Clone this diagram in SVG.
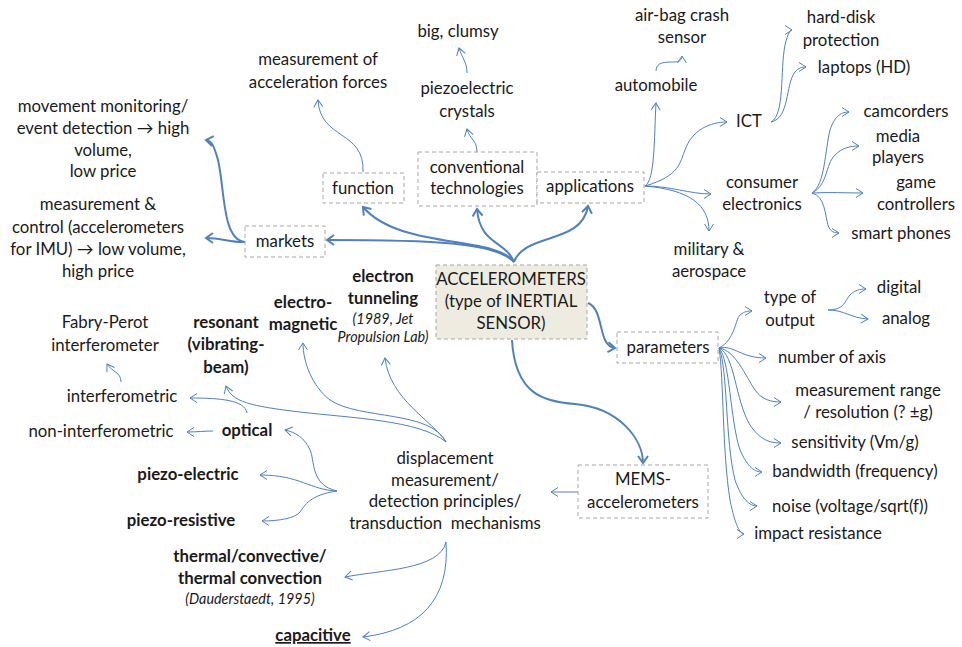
<svg xmlns="http://www.w3.org/2000/svg" width="962" height="647" viewBox="0 0 962 647">
  <defs>
    <style>
      text { font-family: Lato, "Open Sans", "DejaVu Sans", sans-serif; font-size: 16.8px; fill: #1a1a1a; text-anchor: middle; white-space: pre; }
      .b { font-weight: bold; }
      .i { font-style: italic; font-size: 14.4px; }
      .box { fill: #ffffff; stroke: #a6a6a6; stroke-width: 1; stroke-dasharray: 4 3; }
      .core { fill: #eeece1; stroke: #a6a6a6; stroke-width: 1; stroke-dasharray: 4 3; }
      .c { fill: none; stroke: #4f81bd; stroke-width: 1; marker-end: url(#ah); }
      .ct { fill: none; stroke: #4f81bd; stroke-width: 2; marker-end: url(#ahb); }
    </style>
    <marker id="ah" viewBox="-10 -6 12 12" markerWidth="12" markerHeight="12" refX="0" refY="0" orient="auto" markerUnits="userSpaceOnUse">
      <path d="M-7,-4.5 L0,0 L-7,4.5" fill="none" stroke="#4f81bd" stroke-width="1"/>
    </marker>
    <marker id="ahb" viewBox="-10 -6 12 12" markerWidth="12" markerHeight="12" refX="0" refY="0" orient="auto" markerUnits="userSpaceOnUse">
      <path d="M-7,-5 L0,0 L-7,5" fill="none" stroke="#4f81bd" stroke-width="2"/>
    </marker>
  </defs>

  <!-- connectors -->
  <g id="connectors">
    <!-- main branches from the central node -->
    <path class="ct" d="M514,262 C 495,242 430,240 327,240"/>
    <path class="ct" d="M514,262 C 495,235 400,250 363,207"/>
    <path class="ct" d="M514,262 C 505,240 480,245 477,209"/>
    <path class="ct" d="M514,262 C 525,232 582,245 588,206"/>
    <path class="ct" d="M588,303 C 605,310 597,346 615,348"/>
    <path class="ct" d="M512,340 C 515,395 545,402 575,404 C 620,408 643,440 643,463"/>
    <!-- markets -->
    <path class="ct" d="M245,242 C 222,240 225,190 218,160 C 214,146 212,141 206,140"/>
    <path class="ct" d="M245,242 C 232,243 222,238 206,238"/>
    <!-- function / technologies -->
    <path class="c" d="M363,172 C 365,130 320,140 318,100"/>
    <path class="c" d="M477,152 C 477,140 470,140 467,129"/>
    <path class="c" d="M467,73 C 467,62 462,58 459,48"/>
    <!-- applications -->
    <path class="c" d="M645,186 C 655,180 654,140 656,103"/>
    <path class="c" d="M645,186 C 680,176 680,162 685,150 C 692,130 710,122 727,122"/>
    <path class="c" d="M645,186 C 670,186 690,194 711,194"/>
    <path class="c" d="M645,186 C 690,190 709,205 709,231"/>
    <path class="c" d="M656,71 C 656,62 665,62 674,62 C 679,62 682,60 682,56"/>
    <path class="c" d="M771,122 C 785,115 780,70 785,45 C 788,33 790,30 792,30"/>
    <path class="c" d="M771,122 C 790,118 785,85 795,72 C 798,68 802,67 806,67"/>
    <path class="c" d="M812,193 C 825,185 825,150 830,130 C 835,115 842,112 849,112"/>
    <path class="c" d="M812,193 C 828,185 825,165 835,155 C 842,148 850,146 859,146"/>
    <path class="c" d="M812,193 C 830,192 845,193 863,193"/>
    <path class="c" d="M812,193 C 825,196 825,215 828,225 C 830,232 835,233 839,233"/>
    <!-- parameters -->
    <path class="c" d="M719,348 C 735,340 735,320 740,315 C 745,311 748,311 752,311"/>
    <path class="c" d="M828,310 C 845,310 845,300 850,295 C 855,290 860,289 866,289"/>
    <path class="c" d="M828,310 C 845,310 850,318 868,319"/>
    <path class="c" d="M719,348 C 735,345 740,358 766,358"/>
    <path class="c" d="M719,348 C 735,350 745,375 755,390 C 762,400 772,402 781,402"/>
    <path class="c" d="M719,348 C 735,355 735,400 750,425 C 760,440 770,443 781,443"/>
    <path class="c" d="M719,348 C 730,360 730,420 740,450 C 748,468 755,472 762,472"/>
    <path class="c" d="M719,348 C 728,370 725,440 735,480 C 742,500 750,506 757,506"/>
    <path class="c" d="M719,348 C 724,380 722,450 730,500 C 735,525 740,534 744,534"/>
    <!-- MEMS / principles -->
    <path class="c" d="M578,492 L551,492"/>
    <path class="c" d="M446,442 C 432,420 390,400 385,358"/>
    <path class="c" d="M446,442 C 430,410 360,420 330,400 C 312,386 303,362 303,343"/>
    <path class="c" d="M446,442 C 420,420 350,418 300,412 C 250,406 232,402 226,386"/>
    <path class="c" d="M247,413 C 245,400 220,398 190,398"/>
    <path class="c" d="M121,382 C 121,372 112,372 107,364"/>
    <path class="c" d="M213,431 C 205,431 197,432 187,432"/>
    <path class="c" d="M337,491 C 310,485 315,460 310,450 C 305,438 295,432 285,430"/>
    <path class="c" d="M337,491 C 310,490 300,475 260,475"/>
    <path class="c" d="M337,491 C 310,495 305,505 300,512 C 295,518 280,521 262,521"/>
    <path class="c" d="M446,542 C 440,570 380,570 345,577"/>
    <path class="c" d="M446,542 C 450,600 420,630 363,637"/>
  </g>

  <!-- central node -->
  <g id="accelerometers">
    <rect class="core" x="436" y="265" width="151" height="74"/>
    <text x="511" y="285">ACCELEROMETERS</text>
    <text x="511" y="307">(type of INERTIAL</text>
    <text x="511" y="329">SENSOR)</text>
  </g>

  <g id="markets">
    <rect class="box" x="245" y="226" width="80" height="31"/>
    <text x="285" y="247">markets</text>
  </g>
  <g id="function">
    <rect class="box" x="323" y="173" width="81" height="30"/>
    <text x="363" y="194">function</text>
  </g>
  <g id="conventional-technologies">
    <rect class="box" x="418" y="152" width="119" height="54"/>
    <text x="477" y="173">conventional</text>
    <text x="477" y="194">technologies</text>
  </g>
  <g id="applications">
    <rect class="box" x="537" y="172" width="107" height="31"/>
    <text x="590" y="192">applications</text>
  </g>
  <g id="parameters">
    <rect class="box" x="617" y="332" width="101" height="31"/>
    <text x="668" y="353">parameters</text>
  </g>
  <g id="mems">
    <rect class="box" x="578" y="465" width="130" height="53"/>
    <text x="643" y="485">MEMS-</text>
    <text x="643" y="508">accelerometers</text>
  </g>

  <!-- markets -->
  <g id="movement-monitoring">
    <text x="103" y="112">movement monitoring/</text>
    <text x="103" y="134">event detection → high</text>
    <text x="103" y="156">volume,</text>
    <text x="103" y="177">low price</text>
  </g>
  <g id="measurement-control">
    <text x="98" y="210">measurement &amp;</text>
    <text x="98" y="233">control (accelerometers</text>
    <text x="98" y="255">for IMU) → low volume,</text>
    <text x="98" y="277">high price</text>
  </g>

  <!-- function / technologies -->
  <g id="measurement-forces">
    <text x="318" y="65">measurement of</text>
    <text x="318" y="88">acceleration forces</text>
  </g>
  <g id="piezoelectric-crystals">
    <text x="467" y="94">piezoelectric</text>
    <text x="467" y="117">crystals</text>
  </g>
  <g id="big-clumsy"><text x="458" y="37">big, clumsy</text></g>

  <!-- applications -->
  <g id="automobile"><text x="656" y="91">automobile</text></g>
  <g id="airbag">
    <text x="682" y="21">air-bag crash</text>
    <text x="682" y="43">sensor</text>
  </g>
  <g id="ict"><text x="749" y="127">ICT</text></g>
  <g id="hard-disk">
    <text x="841" y="23">hard-disk</text>
    <text x="841" y="46">protection</text>
  </g>
  <g id="laptops"><text x="864" y="73">laptops (HD)</text></g>
  <g id="consumer-electronics">
    <text x="762" y="188">consumer</text>
    <text x="762" y="210">electronics</text>
  </g>
  <g id="camcorders"><text x="906" y="117">camcorders</text></g>
  <g id="media-players">
    <text x="898" y="142">media</text>
    <text x="898" y="163">players</text>
  </g>
  <g id="game-controllers">
    <text x="916" y="188">game</text>
    <text x="916" y="210">controllers</text>
  </g>
  <g id="smart-phones"><text x="901" y="239">smart phones</text></g>
  <g id="military">
    <text x="709" y="255">military &amp;</text>
    <text x="709" y="277">aerospace</text>
  </g>

  <!-- parameters -->
  <g id="type-of-output">
    <text x="790" y="303">type of</text>
    <text x="790" y="326">output</text>
  </g>
  <g id="digital"><text x="899" y="293">digital</text></g>
  <g id="analog"><text x="906" y="324">analog</text></g>
  <g id="number-of-axis"><text x="832" y="363">number of axis</text></g>
  <g id="measurement-range">
    <text x="868" y="396">measurement range</text>
    <text x="868" y="418">/ resolution (? ±g)</text>
  </g>
  <g id="sensitivity"><text x="855" y="448">sensitivity (Vm/g)</text></g>
  <g id="bandwidth"><text x="855" y="477">bandwidth (frequency)</text></g>
  <g id="noise"><text x="850" y="512">noise (voltage/sqrt(f))</text></g>
  <g id="impact-resistance"><text x="818" y="539">impact resistance</text></g>

  <!-- detection principles -->
  <g id="displacement">
    <text x="445" y="464">displacement</text>
    <text x="445" y="486">measurement/</text>
    <text x="445" y="507">detection principles/</text>
    <text x="445" y="529">transduction  mechanisms</text>
  </g>
  <g id="electron-tunneling">
    <text class="b" x="383" y="282">electron</text>
    <text class="b" x="383" y="304">tunneling</text>
    <text class="i" x="383" y="324">(1989, Jet</text>
    <text class="i" x="383" y="342">Propulsion Lab)</text>
  </g>
  <g id="electromagnetic">
    <text class="b" x="303" y="308">electro-</text>
    <text class="b" x="303" y="330">magnetic</text>
  </g>
  <g id="resonant">
    <text class="b" x="226" y="328">resonant</text>
    <text class="b" x="226" y="350">(vibrating-</text>
    <text class="b" x="226" y="373">beam)</text>
  </g>
  <g id="fabry-perot">
    <text x="105" y="328">Fabry-Perot</text>
    <text x="105" y="351">interferometer</text>
  </g>
  <g id="interferometric"><text x="122" y="402">interferometric</text></g>
  <g id="non-interferometric"><text x="101" y="437">non-interferometric</text></g>
  <g id="optical"><text class="b" x="247" y="436">optical</text></g>
  <g id="piezo-electric"><text class="b" x="188" y="480">piezo-electric</text></g>
  <g id="piezo-resistive"><text class="b" x="181" y="526">piezo-resistive</text></g>
  <g id="thermal">
    <text class="b" x="250" y="562">thermal/convective/</text>
    <text class="b" x="250" y="584">thermal convection</text>
    <text class="i" x="250" y="604">(Dauderstaedt, 1995)</text>
  </g>
  <g id="capacitive"><text class="b" x="313" y="641" text-decoration="underline">capacitive</text></g>
</svg>
